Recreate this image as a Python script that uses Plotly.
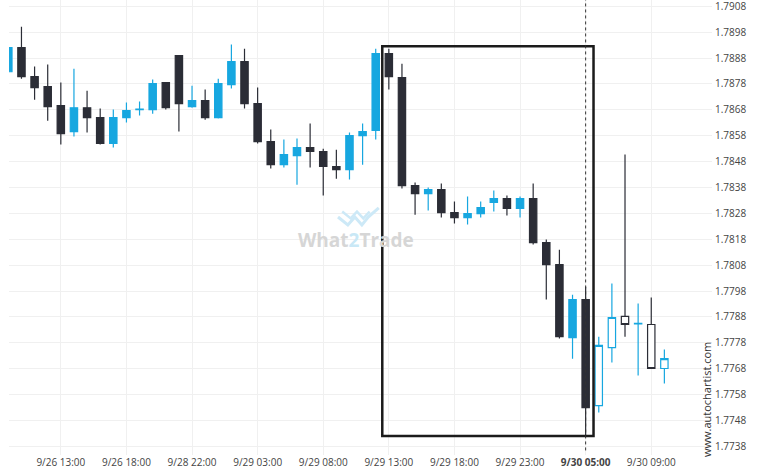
import plotly.graph_objects as go

# ---- data ----
candle_idx = list(range(51))
opens = [1.78827, 1.78920, 1.78808, 1.78770, 1.78696, 1.78596, 1.78688, 1.78650, 1.78550, 1.78650,
         1.78681, 1.78681, 1.78785, 1.78889, 1.78692, 1.78716, 1.78650, 1.78777, 1.78866, 1.78704,
         1.78557, 1.78468, 1.78503, 1.78534, 1.78519, 1.78461, 1.78449, 1.78580, 1.78600, 1.78897,
         1.78804, 1.78387, 1.78356, 1.78372, 1.78283, 1.78264, 1.78279, 1.78322, 1.78337, 1.78299,
         1.78337, 1.78167, 1.78082, 1.77800, 1.77947,
         1.77538, 1.77762, 1.77882, 1.77853, 1.77851, 1.77681]
highs = [1.78922, 1.79001, 1.78847, 1.78855, 1.78785, 1.78839, 1.78754, 1.78685, 1.78681, 1.78708,
         1.78712, 1.78797, 1.78787, 1.78891, 1.78773, 1.78758, 1.78800, 1.78932, 1.78916, 1.78766,
         1.78604, 1.78565, 1.78569, 1.78627, 1.78530, 1.78526, 1.78592, 1.78627, 1.78916, 1.78916,
         1.78858, 1.78399, 1.78380, 1.78395, 1.78326, 1.78345, 1.78326, 1.78368, 1.78349, 1.78345,
         1.78395, 1.78179, 1.78140, 1.77966, 1.77997,
         1.77804, 1.78009, 1.78507, 1.77932, 1.77955, 1.77754]
lows = [1.78825, 1.78800, 1.78719, 1.78638, 1.78546, 1.78577, 1.78592, 1.78546, 1.78534, 1.78631,
        1.78658, 1.78665, 1.78681, 1.78596, 1.78688, 1.78642, 1.78646, 1.78762, 1.78685, 1.78550,
        1.78453, 1.78457, 1.78391, 1.78457, 1.78349, 1.78414, 1.78411, 1.78468, 1.78565, 1.78758,
        1.78376, 1.78275, 1.78291, 1.78264, 1.78241, 1.78237, 1.78264, 1.78287, 1.78272, 1.78264,
        1.78160, 1.77947, 1.77797, 1.77719, 1.77420,
        1.77511, 1.77704, 1.77804, 1.77654, 1.77681, 1.77623]
closes = [1.78920, 1.78808, 1.78766, 1.78692, 1.78588, 1.78688, 1.78650, 1.78550, 1.78650, 1.78677,
          1.78683, 1.78781, 1.78688, 1.78704, 1.78716, 1.78650, 1.78781, 1.78866, 1.78704, 1.78557,
          1.78468, 1.78507, 1.78534, 1.78519, 1.78461, 1.78449, 1.78580, 1.78596, 1.78897, 1.78808,
          1.78387, 1.78356, 1.78372, 1.78283, 1.78264, 1.78279, 1.78302, 1.78337, 1.78299, 1.78337,
          1.78167, 1.78082, 1.77804, 1.77947, 1.77530,
          1.77770, 1.77878, 1.77851, 1.77855, 1.77681, 1.77719]

n_filled = 45          # candles 0..44 are filled, the rest are hollow
pattern_start = 29     # boxed pattern
pattern_end = 44       # pattern end (dotted line)

tick_candles = [4, 9, 14, 19, 24, 29, 34, 39, 44, 49]
tick_labels = ["9/26 13:00", "9/26 18:00", "9/28 22:00", "9/29 03:00", "9/29 08:00",
               "9/29 13:00", "9/29 18:00", "9/29 23:00", "<b>9/30 05:00</b>", "9/30 09:00"]
y_ticks = [round(1.7738 + 0.001 * i, 4) for i in range(18)]

BLUE = "#17a7e0"
DARK = "#2b2d36"

fig = go.Figure()
fig.add_trace(go.Candlestick(
    x=candle_idx[:n_filled], open=opens[:n_filled], high=highs[:n_filled],
    low=lows[:n_filled], close=closes[:n_filled],
    increasing=dict(fillcolor=BLUE, line=dict(color=BLUE, width=1.2)),
    decreasing=dict(fillcolor=DARK, line=dict(color=DARK, width=1.2)),
    whiskerwidth=0, hoverinfo="skip", showlegend=False))
fig.add_trace(go.Candlestick(
    x=candle_idx[n_filled:], open=opens[n_filled:], high=highs[n_filled:],
    low=lows[n_filled:], close=closes[n_filled:],
    increasing=dict(fillcolor="white", line=dict(color=BLUE, width=1.2)),
    decreasing=dict(fillcolor="white", line=dict(color=DARK, width=1.2)),
    whiskerwidth=0, hoverinfo="skip", showlegend=False))

p_hi = max(highs[pattern_start:pattern_end + 1])
p_lo = min(lows[pattern_start:pattern_end + 1])
fig.add_shape(type="rect", xref="x", yref="y",
              x0=pattern_start - 0.5, x1=pattern_end + 0.6,
              y0=p_lo, y1=p_hi + 0.00009,
              line=dict(color="#1b1b1b", width=2.5), fillcolor="rgba(0,0,0,0)")
fig.add_shape(type="line", xref="x", yref="paper",
              x0=pattern_end, x1=pattern_end, y0=0.01, y1=1,
              line=dict(color="#333", width=1, dash="dot"))

# watermark
fig.add_annotation(xref="paper", yref="paper", x=0.4936, y=0.4725, showarrow=False,
                   xanchor="center", yanchor="middle",
                   text="What<span style='color:#c9e8f6'>2</span>Trade",
                   font=dict(family="Open Sans", size=19, color="#d6d6d6", weight="bold"))
fig.add_shape(type="path", xref="paper", yref="paper",
              path="M 0.468 0.523 L 0.482 0.5055 L 0.492 0.523 L 0.502 0.5055 L 0.511 0.523 L 0.526 0.543",
              line=dict(color="#cde9f7", width=3))
fig.add_shape(type="path", xref="paper", yref="paper",
              path="M 0.474 0.535 L 0.486 0.52 L 0.495 0.535 L 0.504 0.52 L 0.513 0.535",
              line=dict(color="#cde9f7", width=2.5))
fig.add_annotation(xref="paper", yref="paper", x=0.993, y=0.121, showarrow=False,
                   xanchor="center", yanchor="middle",
                   text="www.autochartist.com", textangle=-90,
                   font=dict(family="Open Sans", size=11, color="#333"))

fig.update_layout(
    width=760, height=475,
    margin=dict(l=9, r=48, t=0, b=20, autoexpand=False),
    paper_bgcolor="white", plot_bgcolor="white",
    boxgap=0.2,
    xaxis=dict(range=[0.05, 53.63], rangeslider=dict(visible=False),
               tickmode="array", tickvals=tick_candles, ticktext=tick_labels,
               showgrid=True, gridcolor="#f0f0f0", gridwidth=1, zeroline=False,
               showline=False, ticks="", automargin=False,
               tickfont=dict(family="Open Sans", size=10, color="#444")),
    yaxis=dict(range=[1.77347, 1.79104], side="right", tickmode="array",
               tickvals=y_ticks, tickformat=".4f", automargin=False,
               ticklabeloverflow="allow",
               showgrid=True, gridcolor="#f0f0f0", gridwidth=1, zeroline=False,
               showline=False, ticks="", ticklabelstandoff=2,
               tickfont=dict(family="Open Sans", size=10, color="#444")),
)

fig.write_html("out.html", config={"displayModeBar": False},
               post_script="document.body.style.margin='0px';document.body.style.overflow='hidden';")
